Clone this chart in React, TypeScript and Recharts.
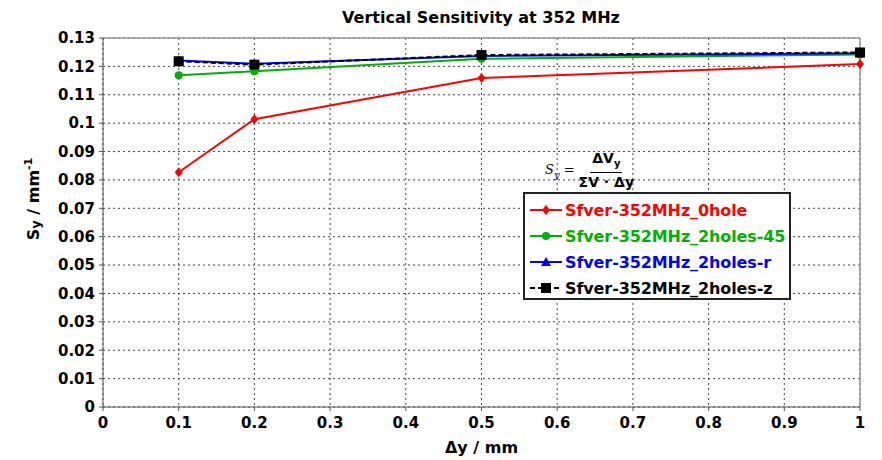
import {
  LineChart,
  Line,
  XAxis,
  YAxis,
  CartesianGrid,
  Legend,
  ReferenceLine,
} from "recharts";

const dy = [0.1, 0.2, 0.5, 1.0];
const hole0 = [0.0827, 0.1014, 0.1159, 0.1208];
const holes45 = [0.1169, 0.1183, 0.1227, 0.1242];
const holesR = [0.1221, 0.1209, 0.1237, 0.1246];
const holesZ = [0.1218, 0.1206, 0.124, 0.1249];

const xTicks = [0, 0.1, 0.2, 0.3, 0.4, 0.5, 0.6, 0.7, 0.8, 0.9, 1];
const yTicks = [0, 0.01, 0.02, 0.03, 0.04, 0.05, 0.06, 0.07, 0.08, 0.09, 0.1, 0.11, 0.12, 0.13];

const series = [
  { key: "hole0", name: "Sfver-352MHz_0hole", color: "#ff0000", shape: "diamond" },
  { key: "holes45", name: "Sfver-352MHz_2holes-45", color: "#00b000", shape: "circle" },
  { key: "holesR", name: "Sfver-352MHz_2holes-r", color: "#0000ff", shape: "triangle" },
  { key: "holesZ", name: "Sfver-352MHz_2holes-z", color: "#000000", shape: "square" },
];

const data = dy.map((x, i) => ({
  dy: x,
  hole0: hole0[i],
  holes45: holes45[i],
  holesR: holesR[i],
  holesZ: holesZ[i],
}));

const FONT = "'DejaVu Sans', Verdana, sans-serif";

function marker(shape: string, color: string, cx: number, cy: number, key?: string) {
  if (shape === "diamond")
    return <path key={key} d={`M${cx},${cy - 5}L${cx + 4},${cy}L${cx},${cy + 5}L${cx - 4},${cy}Z`} fill={color} />;
  if (shape === "circle") return <circle key={key} cx={cx} cy={cy} r={4} fill={color} />;
  if (shape === "triangle")
    return <path key={key} d={`M${cx},${cy - 5}L${cx + 5},${cy + 4}L${cx - 5},${cy + 4}Z`} fill={color} />;
  return <rect key={key} x={cx - 5} y={cy - 5} width={10} height={10} fill={color} />;
}

function makeDot(shape: string, color: string) {
  return (p: any) => marker(shape, color, p.cx, p.cy, `${shape}-${p.index}`);
}

function LegendBox() {
  return (
    <div
      style={{
        border: "2px solid #222",
        background: "#fff",
        padding: "3px 0 3px 4px",
        fontFamily: FONT,
        fontWeight: "bold",
        fontSize: 16,
        boxSizing: "border-box",
        width: 268,
        height: 108,
        overflow: "hidden",
      }}
    >
      {series.map((s) => (
        <div key={s.key} style={{ display: "flex", alignItems: "center", height: 26 }}>
          <svg width={34} height={14} style={{ marginRight: 2, flexShrink: 0 }}>
            <line
              x1={1}
              y1={7}
              x2={33}
              y2={7}
              stroke={s.color}
              strokeWidth={2}
              strokeDasharray={s.shape === "square" ? "5 3" : undefined}
            />
            {marker(s.shape, s.color, 17, 7)}
          </svg>
          <span style={{ color: s.color, whiteSpace: "nowrap", letterSpacing: -0.1 }}>{s.name}</span>
        </div>
      ))}
    </div>
  );
}

export default function App() {
  return (
    <div style={{ position: "absolute", left: 0, top: 0, width: 882, height: 460, background: "#fff" }}>
      <div
        style={{
          position: "absolute",
          top: 8,
          left: 100,
          width: 762,
          textAlign: "center",
          fontFamily: FONT,
          fontWeight: "bold",
          fontSize: 16,
        }}
      >
        Vertical Sensitivity at 352 MHz
      </div>
      <LineChart
        width={882}
        height={460}
        data={data}
        margin={{ top: 38, right: 22, bottom: 0, left: 13 }}
        style={{ position: "absolute", left: 0, top: 0 }}
      >
        <CartesianGrid stroke="#444" strokeDasharray="2 3" />
        <ReferenceLine y={0.13} stroke="#999" strokeWidth={1.5} />
        <ReferenceLine x={1} stroke="#999" strokeWidth={1.5} />
        <XAxis
          dataKey="dy"
          type="number"
          domain={[0, 1]}
          ticks={xTicks}
          height={53}
          tickFormatter={(v: number) => String(Math.round(v * 10) / 10)}
          stroke="#555"
          tickSize={4}
          tick={{ fill: "#000", fontFamily: FONT, fontWeight: "bold", fontSize: 15 }}
          tickMargin={6}
          label={{
            value: "Δy / mm",
            position: "insideBottom",
            offset: 7,
            style: { fill: "#000", fontFamily: FONT, fontWeight: "bold", fontSize: 16 },
          }}
        />
        <YAxis
          type="number"
          domain={[0, 0.13]}
          ticks={yTicks}
          width={90}
          tickFormatter={(v: number) => String(Math.round(v * 100) / 100)}
          stroke="#555"
          tickSize={4}
          tickMargin={4}
          tick={{ fill: "#000", fontFamily: FONT, fontWeight: "bold", fontSize: 15 }}
          label={() => (
            <text
              x={0}
              y={0}
              transform="translate(39, 199) rotate(-90)"
              textAnchor="middle"
              fontFamily={FONT}
              fontWeight="bold"
              fontSize={16}
              fill="#000"
            >
              S<tspan fontSize={13} dy={1}>y</tspan>
              <tspan dy={-1}> / mm</tspan>
              <tspan fontSize={11} dy={-7}>-1</tspan>
            </text>
          )}
        />
        <Legend
          layout="vertical"
          align="center"
          verticalAlign="middle"
          wrapperStyle={{ left: 523, top: 192, width: 268 }}
          content={() => <LegendBox />}
        />
        {series.map((s) => (
          <Line
            key={s.key}
            dataKey={s.key}
            name={s.name}
            stroke={s.color}
            strokeWidth={2}
            strokeDasharray={s.shape === "square" ? "5 3" : undefined}
            dot={makeDot(s.shape, s.color)}
            activeDot={false}
            isAnimationActive={false}
          />
        ))}
      </LineChart>
      <div
        style={{
          position: "absolute",
          left: 545,
          top: 150,
          display: "flex",
          alignItems: "center",
          fontFamily: FONT,
          fontSize: 14,
        }}
      >
        <span style={{ fontFamily: "'DejaVu Serif', serif", fontStyle: "italic", marginRight: 4, fontSize: 13 }}>
          S<sub style={{ fontSize: 10 }}>y</sub> =
        </span>
        <span style={{ display: "inline-flex", flexDirection: "column", alignItems: "center", fontWeight: "bold" }}>
          <span style={{ borderBottom: "1px solid #000", padding: "0 2px", lineHeight: "17px" }}>
            ΔV<sub style={{ fontSize: 10 }}>y</sub>
          </span>
          <span style={{ lineHeight: "18px" }}>ΣV · Δy</span>
        </span>
      </div>
    </div>
  );
}
